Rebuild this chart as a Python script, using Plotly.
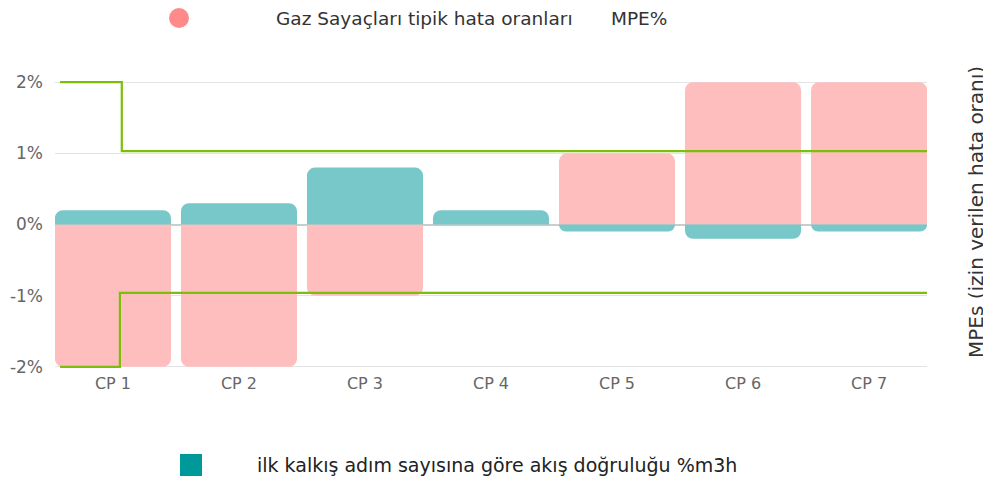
import plotly.graph_objects as go

categories = ["CP 1", "CP 2", "CP 3", "CP 4", "CP 5", "CP 6", "CP 7"]
cat_pos = [0, 1, 2, 3, 4, 5, 6]
accuracy_m3h = [0.2, 0.3, 0.8, 0.2, -0.1, -0.2, -0.1]   # teal
typical_mpe = [-2, -2, -1, 0, 1, 2, 2]                  # pink

upper_x = [-0.42, 0.07, 0.07, 6.46]
upper_y = [2, 2, 1.03, 1.03]
lower_x = [-0.42, 0.055, 0.055, 6.46]
lower_y = [-2, -2, -0.96, -0.96]

y_ticks = [2, 1, 0, -1, -2]
y_tick_labels = ["2%", "1%", "0%", "-1%", "-2%"]

FONT = "DejaVu Sans"
# page body has an 8px margin -> figure is 8px smaller and offset
W, H = 983, 471
L, R, T, B = 47, 64, 72, 110
PW, PH = W - L - R, H - T - B


def px(x):  # reference x pixel -> paper
    return (x - 8 - L) / PW


def py(y):  # reference y pixel -> paper
    return (H - B - (y - 8)) / PH


fig = go.Figure()
fig.add_trace(go.Bar(x=cat_pos, y=typical_mpe, marker=dict(color="#FFBEBE", line=dict(width=0)),
                     name="Gaz Sayaçları tipik hata oranları MPE%"))
fig.add_trace(go.Bar(x=cat_pos, y=accuracy_m3h, marker=dict(color="#78C7C9", line=dict(width=0)),
                     name="ilk kalkış adım sayısına göre akış doğruluğu %m3h"))
for xs, ys in [(upper_x, upper_y), (lower_x, lower_y)]:
    fig.add_trace(go.Scatter(x=xs, y=ys, mode="lines", line=dict(color="#7DBE0A", width=2.2),
                             hoverinfo="skip"))

fig.update_layout(
    width=W, height=H,
    margin=dict(l=L, r=R, t=T, b=B, autoexpand=False),
    paper_bgcolor="white", plot_bgcolor="white",
    barmode="overlay", bargap=0.079, barcornerradius=8,
    showlegend=False,
    font=dict(family=FONT),
    xaxis=dict(range=[-0.46, 6.46], tickmode="array", tickvals=cat_pos, ticktext=categories,
               showgrid=False, zeroline=False, showline=False, automargin=False,
               tickfont=dict(size=16, color="#666666"), ticks="", ticklabelstandoff=3),
    yaxis=dict(range=[-2.03, 2.03], tickmode="array", tickvals=y_ticks, ticktext=y_tick_labels,
               showgrid=True, gridcolor="#E3E3E3", gridwidth=1, automargin=False,
               zeroline=True, zerolinecolor="#CCCCCC", zerolinewidth=1.5,
               tickfont=dict(size=17, color="#666666"), ticks="", ticklabelstandoff=11),
)

# legend replicas
fig.add_shape(type="circle", xref="paper", yref="paper", xsizemode="pixel", ysizemode="pixel",
              xanchor=px(179), yanchor=py(18),
              x0=-10, x1=10, y0=-10, y1=10,
              fillcolor="#FF8A8A", line=dict(width=0))
fig.add_annotation(xref="paper", yref="paper", x=px(274), y=py(18),
                   xanchor="left", yanchor="middle", showarrow=False,
                   text="Gaz Sayaçları tipik hata oranları",
                   font=dict(family=FONT, size=18.5, color="#333333"))
fig.add_annotation(xref="paper", yref="paper", x=px(609), y=py(18),
                   xanchor="left", yanchor="middle", showarrow=False,
                   text="MPE%",
                   font=dict(family=FONT, size=18.5, color="#333333"))
fig.add_shape(type="rect", xref="paper", yref="paper", xsizemode="pixel", ysizemode="pixel",
              xanchor=px(191), yanchor=py(465),
              x0=-11, x1=11, y0=-11, y1=11,
              fillcolor="#009999", line=dict(width=0))
fig.add_annotation(xref="paper", yref="paper", x=px(255), y=py(465),
                   xanchor="left", yanchor="middle", showarrow=False,
                   text="ilk kalkış adım sayısına göre akış doğruluğu %m3h",
                   font=dict(family=FONT, size=19, color="#222222"))
fig.add_annotation(xref="paper", yref="paper", x=px(976), y=py(212),
                   xanchor="center", yanchor="middle", showarrow=False, textangle=-90,
                   text="MPEs (izin verilen hata oranı)",
                   font=dict(family=FONT, size=20, color="#333333"))

fig.write_html("out.html")
